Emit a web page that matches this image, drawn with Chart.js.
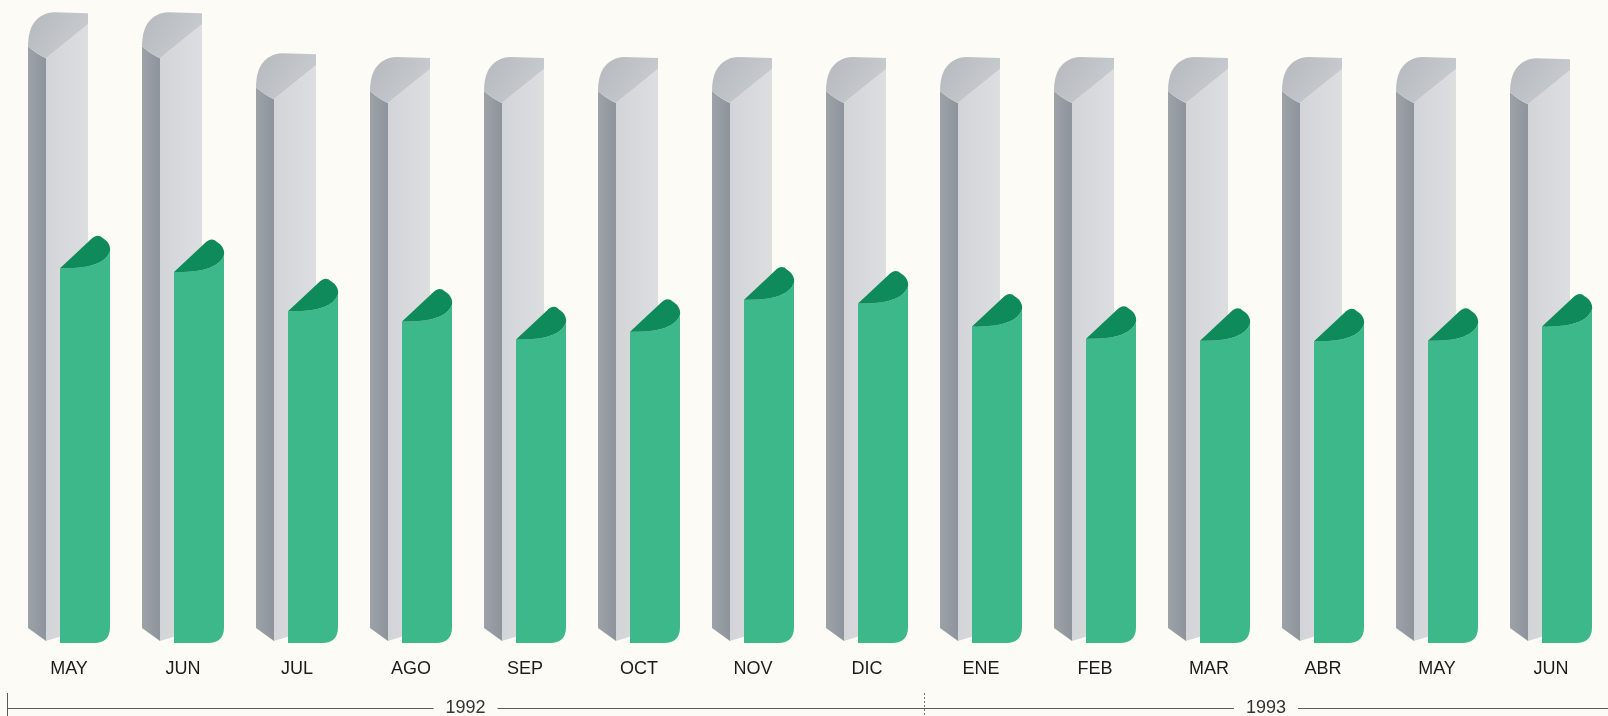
<!DOCTYPE html>
<html>
<head>
<meta charset="utf-8">
<script src="https://cdn.jsdelivr.net/npm/chart.js@4/dist/chart.umd.min.js"></script>
<style>
  html, body { margin: 0; padding: 0; background: #fcfbf5; overflow: hidden; }
  canvas { display: block; }
</style>
</head>
<body>
<canvas id="c" width="1608" height="716"></canvas>
<script>
// ---- data ----
const months = ['MAY','JUN','JUL','AGO','SEP','OCT','NOV','DIC','ENE','FEB','MAR','ABR','MAY','JUN'];
const grayValues  = [98.1, 98.1, 91.7, 91.1, 91.1, 91.1, 91.1, 91.1, 91.1, 91.1, 91.1, 91.1, 91.1, 90.9];
const greenValues = [63.3, 62.7, 56.6, 55.0, 52.2, 53.4, 58.4, 57.8, 54.2, 52.3, 52.0, 51.9, 52.0, 54.2];
const yearLabels = ['1992', '1993'];
const yearFirstIndex = [0, 8];
const yearLastIndex  = [7, 13];

// ---- styles ----
const GRAY_DX = -11, GREEN_DX = 16;
const FONT = "'Liberation Sans', Arial, Helvetica, sans-serif";

function drawGray(ctx, el) {
  const w = el.width, T = el.y, B = el.base;
  const L = el.x + GRAY_DX - w / 2, R = L + w, S = L + 18;
  // dark left strip
  let g = ctx.createLinearGradient(L, 0, S, 0);
  g.addColorStop(0, '#9ca2a8'); g.addColorStop(1, '#8e949b');
  ctx.fillStyle = g;
  ctx.beginPath();
  ctx.moveTo(L, T + 34);
  ctx.quadraticCurveTo(L + 9, T + 42, S, T + 46);
  ctx.lineTo(S, B);
  ctx.lineTo(L, B - 13);
  ctx.closePath();
  ctx.fill();
  // front face
  g = ctx.createLinearGradient(S, 0, R, 0);
  g.addColorStop(0, '#d2d4d7'); g.addColorStop(1, '#dcdee0');
  ctx.fillStyle = g;
  ctx.beginPath();
  ctx.moveTo(S, T + 46);
  ctx.lineTo(R, T + 12);
  ctx.lineTo(R, B - 13);
  ctx.lineTo(S, B);
  ctx.closePath();
  ctx.fill();
  // cap
  g = ctx.createLinearGradient(L, T, R, T + 40);
  g.addColorStop(0, '#b5b9be'); g.addColorStop(1, '#cbced2');
  ctx.fillStyle = g;
  ctx.beginPath();
  ctx.moveTo(L, T + 34);
  ctx.bezierCurveTo(L, T + 12, L + 10, T + 1, L + 26, T);
  ctx.lineTo(R, T + 1);
  ctx.lineTo(R, T + 12);
  ctx.lineTo(S, T + 46);
  ctx.quadraticCurveTo(L + 9, T + 42, L, T + 34);
  ctx.closePath();
  ctx.fill();
}

function drawGreen(ctx, el) {
  const w = el.width, T = el.y, B = el.base;
  const L = el.x + GREEN_DX - w / 2, R = L + w;
  // front face
  ctx.fillStyle = '#3cb88a';
  ctx.beginPath();
  ctx.moveTo(L, T + 33);
  ctx.quadraticCurveTo(R - 6, T + 34, R, T + 16);
  ctx.lineTo(R, B - 14);
  ctx.quadraticCurveTo(R, B + 2, R - 16, B + 2);
  ctx.lineTo(L, B + 2);
  ctx.closePath();
  ctx.fill();
  // cap
  ctx.fillStyle = '#0f8b5b';
  ctx.beginPath();
  ctx.moveTo(L, T + 33);
  ctx.lineTo(L + 31, T + 4);
  ctx.bezierCurveTo(L + 35, T, L + 39, T - 1, L + 43, T + 3);
  ctx.bezierCurveTo(R - 2, T + 6, R + 1, T + 11, R, T + 16);
  ctx.quadraticCurveTo(R - 6, T + 34, L, T + 33);
  ctx.closePath();
  ctx.fill();
}

const cylinderPlugin = {
  id: 'cylinders',
  afterDatasetsDraw(chart) {
    const ctx = chart.ctx;
    ctx.save();
    chart.getDatasetMeta(0).data.forEach(el => drawGray(ctx, el));
    chart.getDatasetMeta(1).data.forEach(el => drawGreen(ctx, el));
    ctx.restore();
  }
};

const yearPlugin = {
  id: 'years',
  afterDraw(chart) {
    const ctx = chart.ctx, xs = chart.scales.x;
    const half = (xs.getPixelForValue(1) - xs.getPixelForValue(0)) / 2;
    const y = 708;
    ctx.save();
    ctx.font = '18px ' + FONT;
    ctx.fillStyle = '#333';
    ctx.textAlign = 'center';
    ctx.textBaseline = 'middle';
    ctx.strokeStyle = '#5a5a5a';
    ctx.lineWidth = 1;
    for (let i = 0; i < yearLabels.length; i++) {
      let x0 = xs.getPixelForValue(yearFirstIndex[i]) - half;
      let x1 = xs.getPixelForValue(yearLastIndex[i]) + half;
      if (i === 0) x0 -= 5;
      if (i === yearLabels.length - 1) x1 = chart.width;
      const cx = (x0 + x1) / 2;
      const tw = ctx.measureText(yearLabels[i]).width;
      ctx.beginPath();
      ctx.moveTo(x0, y + 0.5); ctx.lineTo(cx - tw / 2 - 12, y + 0.5);
      ctx.moveTo(cx + tw / 2 + 12, y + 0.5); ctx.lineTo(x1, y + 0.5);
      ctx.stroke();
      ctx.fillText(yearLabels[i], cx, y);
      ctx.beginPath();
      if (i === 0) {
        ctx.setLineDash([]);
      } else {
        ctx.setLineDash([2, 2]);
        ctx.strokeStyle = '#777';
      }
      ctx.moveTo(Math.round(x0) + 0.5, 693);
      ctx.lineTo(Math.round(x0) + 0.5, 716);
      ctx.stroke();
      ctx.setLineDash([]);
      ctx.strokeStyle = '#5a5a5a';
    }
    ctx.restore();
  }
};

new Chart(document.getElementById('c'), {
  type: 'bar',
  data: {
    labels: months,
    datasets: [
      { label: 'gris', data: grayValues, backgroundColor: 'rgba(0,0,0,0)', borderWidth: 0,
        categoryPercentage: 1, barPercentage: 60 / 114 },
      { label: 'verde', data: greenValues, backgroundColor: 'rgba(0,0,0,0)', borderWidth: 0,
        categoryPercentage: 1, barPercentage: 50 / 114 }
    ]
  },
  options: {
    responsive: false,
    animation: false,
    layout: { padding: { left: 12, right: 0, top: 0, bottom: 19.4 } },
    datasets: { bar: { grouped: false } },
    plugins: { legend: { display: false }, tooltip: { enabled: false } },
    scales: {
      x: {
        grid: { display: false, drawTicks: false },
        border: { display: false },
        ticks: { color: '#1c1c1c', padding: 17, font: { size: 18, family: FONT }, maxRotation: 0, autoSkip: false }
      },
      y: { display: false, min: 0, max: 100 }
    }
  },
  plugins: [cylinderPlugin, yearPlugin]
});
</script>
</body>
</html>
